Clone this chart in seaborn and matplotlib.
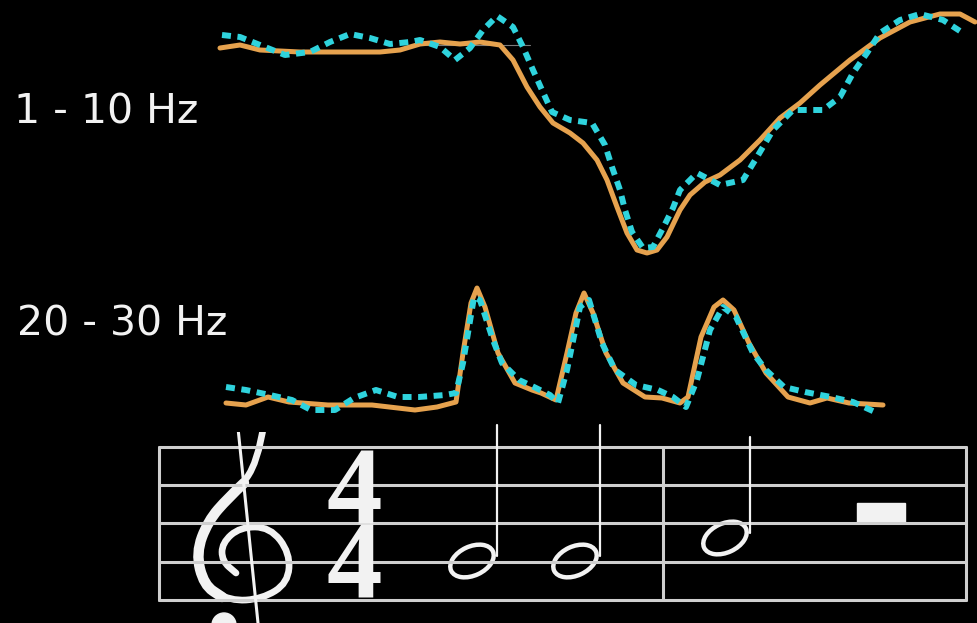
import matplotlib
matplotlib.use("Agg")
import matplotlib.pyplot as plt
from matplotlib.patches import Ellipse, Rectangle, Circle, PathPatch
from matplotlib.path import Path
import seaborn as sns

# band power traces, x = time position, y = height on the canvas
low_t_orange = [220, 240, 260, 300, 340, 380, 400, 420, 440, 460, 480, 500, 513, 527, 540,
                553, 570, 583, 597, 607, 617, 627, 637, 647, 657, 667, 680, 690, 705, 720,
                740, 760, 780, 800, 820, 850, 880, 910, 940, 960, 975]
low_orange = [575, 578, 573, 571, 571, 571, 573, 579, 581, 579, 581, 578, 563, 536, 516,
              500, 490, 480, 463, 443, 416, 390, 373, 370, 373, 386, 413, 428, 441, 448,
              463, 483, 505, 520, 538, 563, 585, 601, 609, 609, 601]

low_t_cyan = [222, 240, 260, 285, 310, 330, 350, 370, 390, 410, 420, 440, 455, 470, 483,
              497, 513, 523, 533, 542, 552, 570, 592, 605, 612, 620, 625, 632, 643, 653,
              663, 673, 680, 697, 720, 743, 757, 773, 793, 823, 840, 853, 867, 880, 900,
              920, 943, 963]
low_cyan = [588, 586, 578, 568, 571, 581, 589, 585, 579, 581, 583, 576, 563, 575, 593,
            607, 596, 576, 553, 533, 511, 503, 500, 478, 456, 433, 413, 391, 375, 376,
            395, 415, 433, 450, 438, 443, 466, 493, 513, 513, 526, 550, 570, 590, 603,
            609, 603, 590]

high_t_orange = [226, 246, 268, 289, 328, 372, 415, 437, 456, 463, 471, 477, 485, 498, 515,
                 532, 541, 556, 567, 576, 584, 593, 606, 623, 645, 662, 680, 688, 701, 714,
                 723, 734, 749, 766, 788, 810, 827, 849, 883]
high_orange = [220, 218, 226, 221, 218, 218, 213, 216, 221, 270, 320, 335, 316, 270, 240,
               233, 230, 223, 270, 310, 330, 310, 270, 240, 226, 225, 220, 226, 286, 316,
               323, 313, 280, 250, 226, 220, 225, 220, 218]

high_t_cyan = [226, 246, 270, 292, 311, 335, 354, 376, 398, 419, 445, 456, 463, 474, 480,
               493, 502, 519, 534, 550, 558, 567, 580, 589, 602, 615, 636, 658, 673, 686,
               697, 710, 723, 736, 753, 766, 784, 805, 831, 853, 875]
high_cyan = [236, 233, 228, 223, 213, 213, 225, 233, 226, 226, 228, 230, 260, 326, 323,
             283, 260, 243, 236, 228, 220, 253, 316, 323, 280, 253, 238, 233, 226, 216,
             243, 293, 316, 306, 270, 253, 236, 231, 226, 221, 211]

band_labels = ["1 - 10 Hz", "20 - 30 Hz"]

ORANGE = "#e6a24e"
CYAN = "#2fd3dd"
WHITE = "#f2f2f2"
STAFF = "#cfcfcf"


def smooth_path(pts):
    # quadratic spline through the midpoints of a control polygon
    verts = [pts[0]]
    codes = [Path.MOVETO]
    for i in range(1, len(pts) - 1):
        mid = ((pts[i][0] + pts[i + 1][0]) / 2, (pts[i][1] + pts[i + 1][1]) / 2)
        verts += [pts[i], mid]
        codes += [Path.CURVE3, Path.CURVE3]
    verts.append(pts[-1])
    codes.append(Path.LINETO)
    return Path(verts, codes)


sns.set_style("dark")
plt.rcParams["font.family"] = ["DejaVu Sans"]

fig = plt.figure(figsize=(9.77, 6.23), dpi=100, facecolor="black")
ax = fig.add_axes([0, 0, 1, 1])
ax.set_facecolor("black")
ax.set_xlim(0, 977)
ax.set_ylim(0, 623)
ax.axis("off")

# faint reference line in the upper panel
ax.plot([420, 530], [578, 578], color="#7a7a7a", lw=0.8)

for t, v in [(low_t_orange, low_orange), (high_t_orange, high_orange)]:
    sns.lineplot(x=t, y=v, ax=ax, color=ORANGE, lw=3.6, solid_capstyle="round",
                 solid_joinstyle="round")
for t, v in [(low_t_cyan, low_cyan), (high_t_cyan, high_cyan)]:
    sns.lineplot(x=t, y=v, ax=ax, color=CYAN, lw=4.3, linestyle=(0, (1.5, 1.1)))

ax.text(14, 510, band_labels[0], color=WHITE, fontsize=29.5, va="center", ha="left")
ax.text(17, 299, band_labels[1], color=WHITE, fontsize=29.5, va="center", ha="left")

# music staff
staff_y = [176, 138, 100, 61, 23]
for y in staff_y:
    ax.plot([159, 966], [y, y], color=STAFF, lw=2.2)
for x in [159, 663, 966]:
    ax.plot([x, x], [23, 176], color=STAFF, lw=2.2)

# treble clef (no installed font has the glyph), drawn as strokes, cut at the top
clip = Rectangle((150, 0), 180, 191, transform=ax.transData)
curl = [(264, 200), (258, 160), (235, 130), (208, 102), (196, 70), (204, 38),
        (230, 22), (262, 24), (288, 40), (290, 70), (270, 96), (240, 96),
        (222, 80), (222, 62), (236, 50)]
outer = [(244, 140), (228, 125), (208, 102), (196, 70), (204, 38), (222, 26)]
parts = [
    PathPatch(smooth_path(curl), fill=False, ec=WHITE, lw=4.8, capstyle="round"),
    PathPatch(smooth_path(outer), fill=False, ec=WHITE, lw=7.5, capstyle="round"),
]
for p in parts:
    ax.add_patch(p)
stem = ax.plot([238, 258], [195, 0], color=WHITE, lw=2.2)[0]
ball = Circle((224, -2), 12, color=WHITE)
ax.add_patch(ball)
for p in parts + [stem, ball]:
    p.set_clip_path(clip)

ax.text(354, 26, "4\n4", color=WHITE, fontsize=80, fontweight="bold",
        family="Liberation Serif", ha="center", va="baseline", linespacing=0.65)

# half notes: head centre and stem top
for hx, hy, top in [(472, 62, 198), (575, 62, 198), (725, 85, 186)]:
    ax.add_patch(Ellipse((hx, hy), 46, 29, angle=25, fill=False, ec=WHITE, lw=3.2))
    ax.plot([hx + 25, hx + 25], [hy + 5, top], color=WHITE, lw=1.6)

# half rest
ax.add_patch(Rectangle((857, 101), 48, 19, color=WHITE))

fig.savefig("out.png", dpi=100, facecolor="black")
